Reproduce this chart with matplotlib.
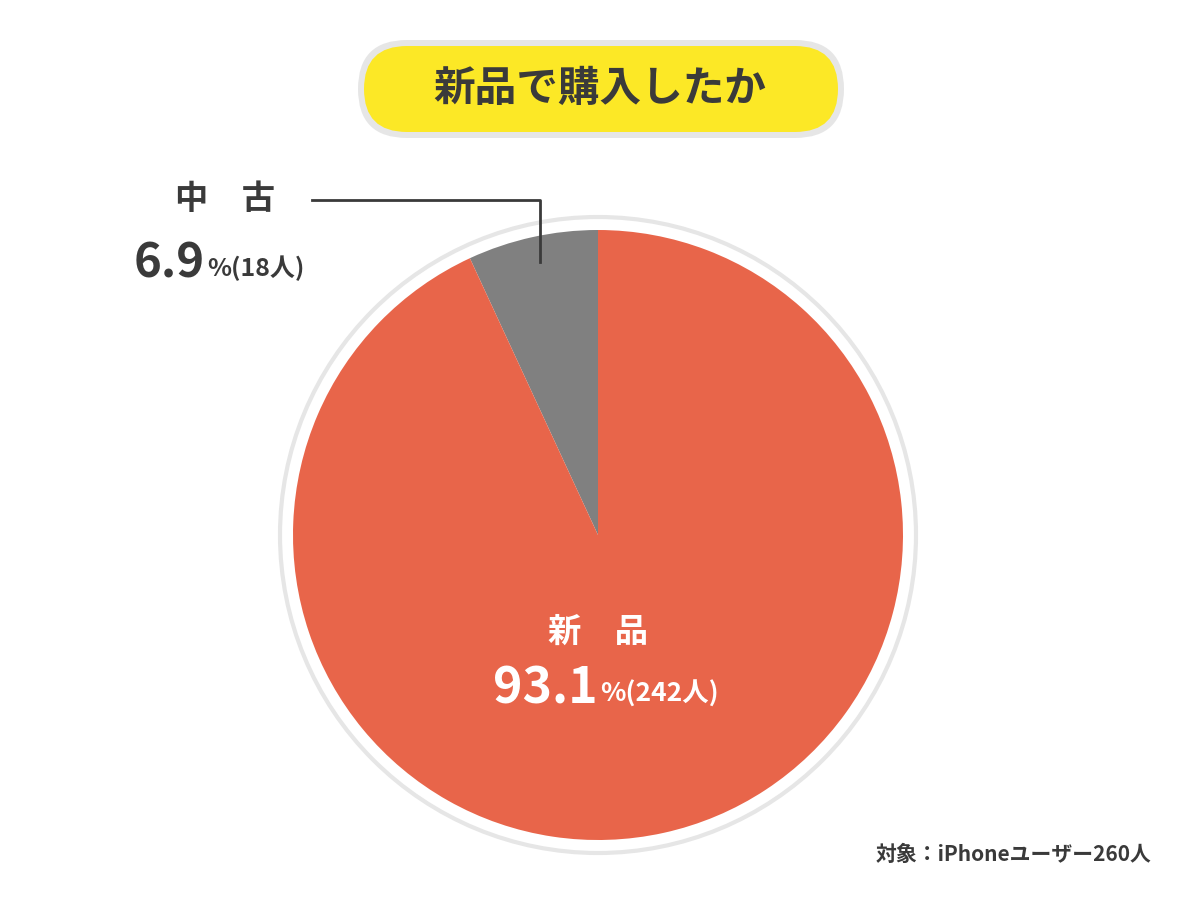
import matplotlib
matplotlib.use("Agg")
import matplotlib.pyplot as plt
from matplotlib.patches import FancyBboxPatch, Circle

plt.rcParams['font.family'] = ['Noto Sans CJK JP', 'DejaVu Sans']

labels = ["中　古", "新　品"]
values = [6.9, 93.1]
counts = [18, 242]
colors = ["#808080", "#E8654A"]
title = "新品で購入したか"
footer = "対象：iPhoneユーザー260人"

fig = plt.figure(figsize=(12, 9), dpi=100)
ax = fig.add_axes([0, 0, 1, 1])
ax.set_xlim(0, 1200); ax.set_ylim(0, 900); ax.set_aspect('equal'); ax.axis('off')

cx, cy, r = 598, 365, 305
ax.add_patch(Circle((cx, cy), r + 13, facecolor='white', edgecolor='#e6e6e6', lw=3, zorder=0))
ax.pie(values, colors=colors, startangle=90, counterclock=True, center=(cx, cy), radius=r,
       wedgeprops=dict(linewidth=0))
ax.set_xlim(0, 1200); ax.set_ylim(0, 900)

# title pill
ax.add_patch(FancyBboxPatch((358, 762), 486, 98, boxstyle="round,pad=0,rounding_size=49",
                            facecolor='#e6e6e6', edgecolor='none'))
ax.add_patch(FancyBboxPatch((364, 768), 474, 86, boxstyle="round,pad=0,rounding_size=43",
                            facecolor='#FCE826', edgecolor='none'))
ax.text(600, 811, title, ha='center', va='center', fontsize=30, fontweight='bold', color='#3a3a3a')

dark = '#3a3a3a'
# small slice label
ax.plot([312, 540, 540], [700, 700, 638], color=dark, lw=2)
ax.text(225, 700, labels[0], ha='center', va='center', fontsize=24, fontweight='bold', color=dark)
ax.text(205, 636, f"{values[0]}", ha='right', va='center', fontsize=34, fontweight='bold', color=dark)
ax.text(207, 632, f"%({counts[0]}人)", ha='left', va='center', fontsize=18, fontweight='bold', color=dark)

# big slice label
ax.text(598, 268, labels[1], ha='center', va='center', fontsize=24, fontweight='bold', color='white')
ax.text(598, 211, f"{values[1]}", ha='right', va='center', fontsize=36, fontweight='bold', color='white')
ax.text(600, 206, f"%({counts[1]}人)", ha='left', va='center', fontsize=19, fontweight='bold', color='white')

ax.text(1152, 46, footer, ha='right', va='center', fontsize=15, fontweight='bold', color=dark)

fig.savefig("out.png", dpi=100, facecolor='white')
